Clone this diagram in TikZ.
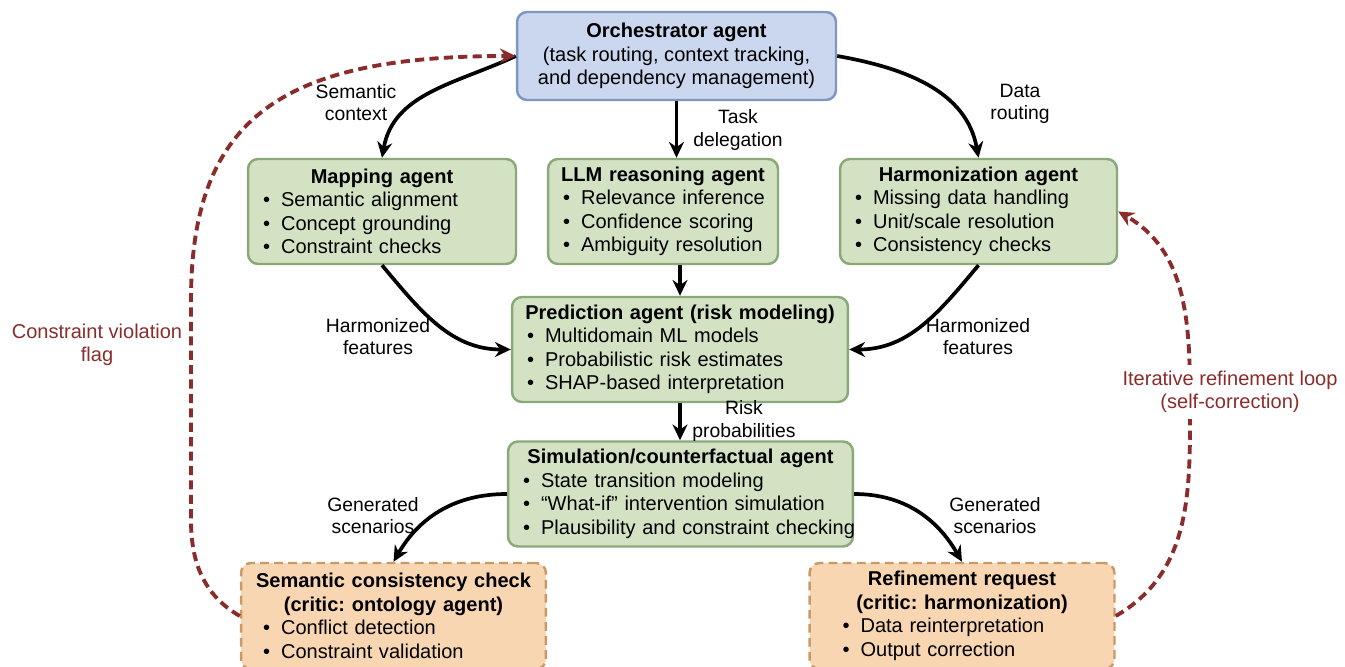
\documentclass[tikz,border=0pt]{standalone}
\usepackage{fontspec}
\setmainfont{Liberation Sans}
\usepackage{xcolor}
\usetikzlibrary{arrows.meta}
\definecolor{orchblue}{HTML}{CAD7EE}
\definecolor{orchedge}{HTML}{7D97C4}
\definecolor{agentgreen}{HTML}{D4E2C4}
\definecolor{agentedge}{HTML}{89A978}
\definecolor{criticorange}{HTML}{F9D6B2}
\definecolor{criticedge}{HTML}{C99A68}
\definecolor{loopred}{HTML}{8B2C2C}
\newcommand{\boxtitle}[1]{\makebox[\hsize]{\textbf{#1}}}
\newcommand{\bul}[1]{\mbox{\textbullet\hspace{0.55em}#1}}
\frenchspacing

\begin{document}
\begin{tikzpicture}[x=0.02cm,y=-0.02cm,
  font=\fontsize{11.4}{13.4}\selectfont,
  orch/.style={draw=orchedge,fill=orchblue,line width=1.4pt,rounded corners=0.2cm,
    align=center,minimum width=6.38cm,minimum height=1.76cm,inner sep=0pt},
  agent/.style={draw=agentedge,fill=agentgreen,line width=1.4pt,rounded corners=0.2cm,
    align=left,inner xsep=0.3cm,inner ysep=0pt,minimum height=2.1cm},
  critic/.style={draw=criticedge,fill=criticorange,line width=1.4pt,rounded corners=0.2cm,
    dash pattern=on 5pt off 3pt,align=left,inner ysep=0pt,minimum height=2.12cm},
  flow/.style={-{Stealth[length=9pt,width=8.5pt]},line width=2.1pt},
  fback/.style={-{Stealth[length=9pt,width=8.5pt]},line width=2.2pt,loopred,
    dash pattern=on 5.2pt off 3pt},
  lbl/.style={align=center,font=\fontsize{11}{12.6}\selectfont},
  lbred/.style={align=center,text=loopred,font=\fontsize{11.4}{13}\selectfont}]
  \useasboundingbox (0,0) rectangle (1345,666);

  \node[orch] (orch) at (676.5,56) {\textbf{Orchestrator agent}\\(task routing, context tracking,\\and dependency management)};

  \node[agent,text width=4.76cm] (map) at (382,211.5) {\boxtitle{Mapping agent}\\\bul{Semantic alignment}\\\bul{Concept grounding}\\\bul{Constraint checks}};
  \node[agent,text width=4.0cm] (llm) at (663,211.5) {\boxtitle{LLM reasoning agent}\\\bul{Relevance inference}\\\bul{Confidence scoring}\\\bul{Ambiguity resolution}};
  \node[agent,text width=4.94cm] (harm) at (978.5,211.5) {\boxtitle{Harmonization agent}\\\bul{Missing data handling}\\\bul{Unit/scale resolution}\\\bul{Consistency checks}};
  \node[agent,text width=6.12cm] (pred) at (680,349.5) {\boxtitle{Prediction agent (risk modeling)}\\\bul{Multidomain ML models}\\\bul{Probabilistic risk estimates}\\\bul{SHAP-based interpretation}};
  \node[agent,text width=6.3cm] (sim) at (680.5,494) {\boxtitle{Simulation/counterfactual agent}\\\bul{State transition modeling}\\\bul{“What-if” intervention simulation}\\\bul{Plausibility and constraint checking}};

  \node[critic,inner xsep=0.44cm,text width=5.22cm] (sem) at (393.5,616) {\boxtitle{Semantic consistency check}\\\boxtitle{(critic: ontology agent)}\\\bul{Conflict detection}\\\bul{Constraint validation}};
  \node[critic,inner xsep=0.66cm,text width=4.78cm] (ref) at (962,616) {\boxtitle{Refinement request}\\\boxtitle{(critic: harmonization)}\\\bul{Data reinterpretation}\\\bul{Output correction}};

  \draw[flow] (orch.west) to[out=205,in=80] (map.north);
  \draw[flow] (orch.south) -- (orch.south |- llm.north);
  \draw[flow] (orch.east) to[out=-10,in=100] (harm.north);
  \draw[flow] (map.south) to[out=-50,in=180] (pred.west);
  \draw[flow] (pred.north |- llm.south) -- (pred.north);
  \draw[flow] (harm.south) to[out=-130,in=0] (pred.east);
  \draw[flow] (pred.south) -- (pred.south |- sim.north);
  \draw[flow] (sim.west) to[out=180,in=60] (sem.north);
  \draw[flow] (sim.east) to[out=0,in=120] (ref.north);

  \node[lbl] (lsemctx) at (356,103) {Semantic\\context};
  \node[lbl] (ltask) at (738,130) {Task\\delegation};
  \node[lbl] (lroute) at (1020,104) {Data\\routing};
  \node[lbl] (lfeatl) at (378,337) {Harmonized\\features};
  \node[lbl] (lfeatr) at (978,337) {Harmonized\\features};
  \node[lbl] (lrisk) at (744,421) {Risk\\probabilities};
  \node[lbl] (lscenl) at (373,516) {Generated\\scenarios};
  \node[lbl] (lscenr) at (995,516) {Generated\\scenarios};

  \draw[fback] (sem.west) to[out=150,in=-90] (191,520) -- (191,300)
    .. controls +(0,-185) and +(-230,0) .. (orch.west);
  \draw[fback] (ref.east) to[out=30,in=-90] (1190,400) to[out=90,in=-30] (harm.east);

  \node[lbred] (lflag) at (97,345) {Constraint violation\\flag};
  \node[lbred,fill=white] (lloop) at (1230,392) {Iterative refinement loop\\(self-correction)};
\end{tikzpicture}
\end{document}
